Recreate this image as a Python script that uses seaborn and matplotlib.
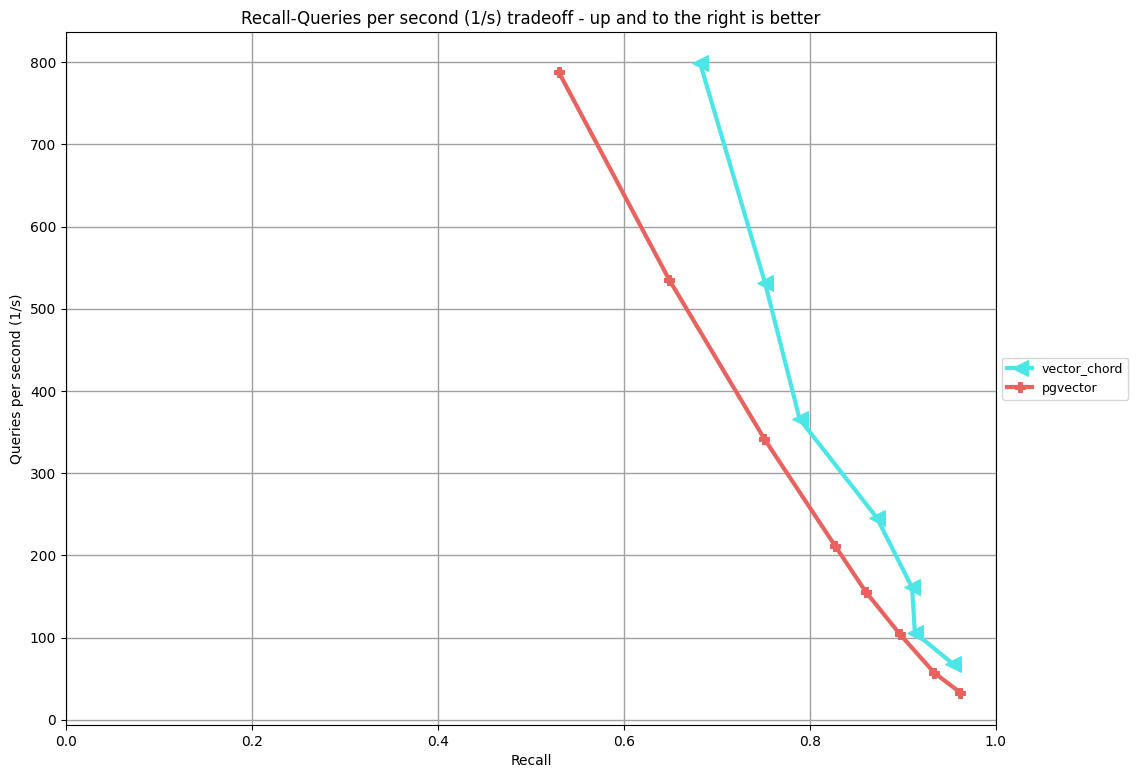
import pandas as pd
import seaborn as sns
import matplotlib
matplotlib.use('Agg')
import matplotlib.pyplot as plt

# 讀圖估計的資料點
vc_recall = [0.682, 0.752, 0.789, 0.872, 0.910, 0.913, 0.954]
vc_qps = [799, 531, 366, 246, 161, 106, 68]
pg_recall = [0.530, 0.649, 0.751, 0.827, 0.860, 0.897, 0.934, 0.962]
pg_qps = [788, 535, 342, 212, 156, 104, 57, 33]

series = [
    ("vector_chord", vc_recall, vc_qps, "#4de6e6", "<", 12),
    ("pgvector", pg_recall, pg_qps, "#e8635f", "P", 7),
]

fig = plt.figure(figsize=(11.38, 7.78), dpi=100)
ax = fig.add_axes([0.058, 0.0681, 0.817, 0.8904])

for name, xs, ys, color, marker, ms in series:
    df = pd.DataFrame({"Recall": xs, "QPS": ys})
    sns.lineplot(data=df, x="Recall", y="QPS", ax=ax, sort=False, color=color,
                 marker=marker, markersize=ms, markeredgecolor=color,
                 linewidth=3, label=name)

ax.set_xlim(0, 1.0)
ax.set_ylim(-6.4, 836.5)
ax.grid(True, color="#a0a0a0", linewidth=1)
ax.set_axisbelow(True)
ax.set_xlabel("Recall")
ax.set_ylabel("Queries per second (1/s)")
ax.set_title("Recall-Queries per second (1/s) tradeoff - up and to the right is better")
ax.legend(loc="center left", bbox_to_anchor=(1, 0.5), prop={"size": 9})

fig.savefig("out.png", dpi=100)
